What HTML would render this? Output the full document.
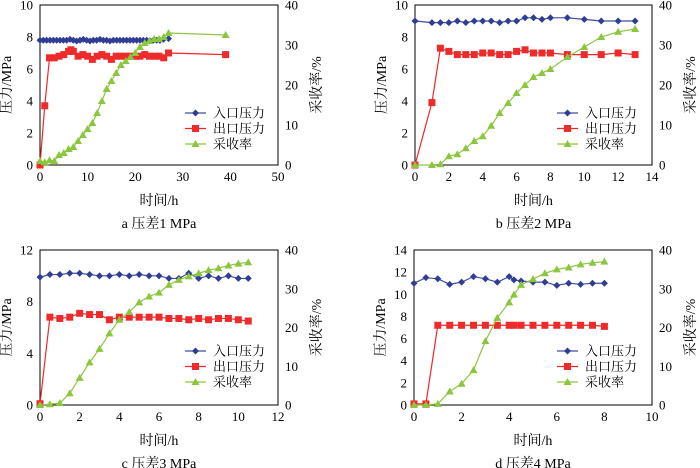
<!DOCTYPE html>
<html><head><meta charset="utf-8"><style>
html,body{margin:0;padding:0;background:#fff}
svg{display:block;font-family:"Liberation Serif","Noto Serif CJK SC","Noto Sans CJK SC",serif}
</style></head><body>
<svg id="c" width="700" height="468" viewBox="0 0 700 468" xmlns="http://www.w3.org/2000/svg"></svg>
<script>
// Panel a
const aTime=[0,0.7,1.4,2.1,2.8,3.5,4.2,4.9,5.6,6.3,7,7.7,8.4,9.1,9.8,10.5,11.2,11.9,12.6,13.3,14,14.7,15.4,16.1,16.8,17.5,18.2,18.9,19.6,20.3,21,21.7,22.4,23.1,23.8,24.5,25.2,25.9,27];
const aInlet=[7.8,7.8,7.8,7.8,7.8,7.8,7.8,7.8,7.8,7.85,7.8,7.75,7.8,7.85,7.8,7.75,7.8,7.8,7.85,7.8,7.8,7.75,7.8,7.8,7.8,7.8,7.8,7.8,7.8,7.8,7.8,7.8,7.8,7.75,7.8,7.8,7.8,7.85,7.9];
const aOutTime=[0,1,2,3,4,5,6,6.5,7,8,9,10,11,12,13,14,15,16,17,18,19,20,21,22,23,24,25,26,27,39];
const aOutlet=[0,3.7,6.7,6.7,6.8,6.9,7.1,7.2,7.1,6.8,6.9,6.8,6.6,6.8,6.9,6.8,6.6,6.8,6.8,6.8,6.8,6.8,6.8,6.9,6.8,6.8,6.8,6.7,7.0,6.9];
const aRecTime=[0,1,2,3,4,5,6,7,8,9,10,11,12,13,14,15,16,17,18,19,20,21,22,23,24,25,26,27,39];
const aRecovery=[1,0.7,1.2,1,2.5,3,4,4.5,6,7.5,9,10.5,13,16,19,21,23,25,26,27,28,29.5,30.5,31,31.5,31.5,32,33,32.5];
// Panel b
const bTime=[0,1,1.5,2,2.5,3,3.5,4,4.5,5,5.5,6,6.5,7,7.5,8,9,10,11,12,13];
const bInlet=[9,8.9,8.9,8.9,9,8.9,9,9,9,8.9,9,9,9.2,9.2,9.1,9.2,9.2,9.1,9,9,9];
const bOutlet=[0,3.9,7.3,7.1,6.9,6.9,6.9,7,7,6.9,6.9,7.1,7.2,7,7,7,6.9,6.9,6.9,7,6.9];
const bRecovery=[0,0,0.2,2.2,2.7,4.2,6,7.2,9.8,13,15.5,18,20,22,23,24,27,29.5,32,33.3,34];
// Panel c
const cTime=[0,0.5,1,1.5,2,2.5,3,3.5,4,4.5,5,5.5,6,6.5,7,7.5,8,8.5,9,9.5,10,10.5];
const cInlet=[9.9,10.1,10.1,10.2,10.2,10.1,10,10,10.1,10,10.1,10,10,9.8,9.8,10.2,9.8,10,9.8,10,9.8,9.8];
const cOutlet=[0.1,6.8,6.7,6.8,7.1,7,7,6.6,6.8,6.8,6.8,6.8,6.8,6.7,6.7,6.6,6.7,6.6,6.7,6.7,6.6,6.5];
const cRecovery=[0,0.2,0.5,3,7,11,14.5,18.5,22,24,26.5,28,29,31,32.3,33.2,34,34.8,35.3,36,36.5,36.8];
// Panel d
const dTime=[0,0.5,1,1.5,2,2.5,3,3.5,4,4.2,4.5,5,5.5,6,6.5,7,7.5,8];
const dInlet=[11,11.5,11.4,10.9,11.1,11.6,11.4,11.1,11.6,11.3,11.2,11.1,11.1,10.8,11,10.9,11,11];
const dOutlet=[0.1,0.1,7.2,7.2,7.2,7.2,7.2,7.2,7.2,7.2,7.2,7.2,7.2,7.2,7.2,7.2,7.2,7.1];
const dRecovery=[0,0,0.3,3.5,5.5,9,16.5,22.5,26.5,28.5,31,32.5,34,35,35.5,36.3,36.7,37];
// Tick labels
const aXTicks=[0,10,20,30,40,50], aYTicks=[0,2,4,6,8,10], aRTicks=[0,10,20,30,40];
const bXTicks=[0,2,4,6,8,10,12,14], bYTicks=[0,2,4,6,8,10], bRTicks=[0,10,20,30,40];
const cXTicks=[0,2,4,6,8,10,12], cYTicks=[0,4,8,12], cRTicks=[0,10,20,30,40];
const dXTicks=[0,2,4,6,8,10], dYTicks=[0,2,4,6,8,10,12,14], dRTicks=[0,10,20,30,40];
const legendNames=["入口压力","出口压力","采收率"];
const captions=["a  压差1 MPa","b  压差2 MPa","c  压差3 MPa","d  压差4 MPa"];

const NS="http://www.w3.org/2000/svg";
const svg=document.getElementById('c');
function mk(tag,attrs,parent){const e=document.createElementNS(NS,tag);for(const k in attrs)e.setAttribute(k,attrs[k]);(parent||svg).appendChild(e);return e;}
const BLUE="#3F4DA3",RED="#F02828",GREEN="#8DC63F";
function marker(g,kind,x,y){
  let m;
  if(kind==='d'){m=mk('polygon',{points:`${x},${y-3.5} ${x+3.5},${y} ${x},${y+3.5} ${x-3.5},${y}`,fill:"#2F3D95"},g);}
  else if(kind==='s'){m=mk('rect',{x:x-3.5,y:y-3.5,width:7,height:7,fill:"#EE2A2A"},g);}
  else {m=mk('polygon',{points:`${x},${y-4} ${x+4},${y+3} ${x-4},${y+3}`,fill:"#8CC63F"},g);}
  return m;
}
function panel(id,p){
  const g=mk('g',{});
  
  
  const X=v=>p.x0+(v-p.xmin)/(p.xmax-p.xmin)*(p.x1-p.x0);
  const Y=v=>p.y1-v/p.ymax*(p.y1-p.y0);
  const R=v=>p.y1-v/p.rmax*(p.y1-p.y0);
  const box=mk('rect',{x:p.x0,y:p.y0,width:p.x1-p.x0,height:p.y1-p.y0,fill:"none",stroke:"#000","stroke-width":1},g);
  
  p.xt.forEach(v=>{const t=mk('text',{x:X(v),y:p.y1+16,"text-anchor":"middle","font-size":13},g);t.textContent=v;
    });
  p.yt.forEach(v=>{const t=mk('text',{x:p.x0-7,y:Y(v)+4.5,"text-anchor":"end","font-size":13},g);t.textContent=v;
    });
  p.rt.forEach(v=>{const t=mk('text',{x:p.x1+7,y:R(v)+4.5,"text-anchor":"start","font-size":13},g);t.textContent=v;
    });
  const cy=(p.y0+p.y1)/2;
  const yt=mk('text',{x:0,y:0,"text-anchor":"middle","font-size":14,transform:`translate(${p.x0-29},${cy}) rotate(-90)`},g);yt.textContent="压力/MPa";
  
  const rt=mk('text',{x:0,y:0,"text-anchor":"middle","font-size":14,transform:`translate(${p.x1+43},${cy}) rotate(-90)`},g);rt.textContent="采收率/%";
  
  const xt=mk('text',{x:(p.x0+p.x1)/2,y:p.y1+40,"text-anchor":"middle","font-size":14},g);xt.textContent="时间/h";
  
  const cap=mk('text',{x:(p.x0+p.x1)/2,y:p.y1+63,"text-anchor":"middle","font-size":14},g);cap.textContent=p.cap;
  
  const series=[[p.it,p.inl,Y,BLUE,'d','inlet-pressure'],[p.ot,p.out,Y,RED,'s','outlet-pressure'],[p.rtm,p.rec,R,GREEN,'t','recovery-rate']];
  series.forEach(s=>{
    const [ts,vs,f,col,k,name]=s;
    const sg=mk('g',{},g);
    
    const pl=mk('polyline',{points:ts.map((t,i)=>X(t)+","+f(vs[i])).join(" "),fill:"none",stroke:col,"stroke-width":1.2},sg);
    
    ts.forEach((t,i)=>{const m=marker(sg,k,X(t),f(vs[i]));
      });
  });
  const cols=[BLUE,RED,GREEN],ks=['d','s','t'];
  legendNames.forEach((n,i)=>{
    const ly=p.ly+i*15.5;
    const lg=mk('g',{},g);
    
    mk('line',{x1:p.lx,x2:p.lx+21,y1:ly,y2:ly,stroke:cols[i],"stroke-width":1.2},lg);
    marker(lg,ks[i],p.lx+10.5,ly);
    const t=mk('text',{x:p.lx+28,y:ly+4.5,"font-size":13},lg);t.textContent=n;
  });
}
panel('a',{x0:40,x1:278,y0:5,y1:165,xmin:0,xmax:50,ymax:10,rmax:40,xt:aXTicks,yt:aYTicks,rt:aRTicks,
  it:aTime,inl:aInlet,ot:aOutTime,out:aOutlet,rtm:aRecTime,rec:aRecovery,lx:185,ly:113,cap:captions[0]});
panel('b',{x0:415,x1:652,y0:5,y1:165,xmin:0,xmax:14,ymax:10,rmax:40,xt:bXTicks,yt:bYTicks,rt:bRTicks,
  it:bTime,inl:bInlet,ot:bTime,out:bOutlet,rtm:bTime,rec:bRecovery,lx:557,ly:113,cap:captions[1]});
panel('c',{x0:40,x1:278,y0:250,y1:405,xmin:0,xmax:12,ymax:12,rmax:40,xt:cXTicks,yt:cYTicks,rt:cRTicks,
  it:cTime,inl:cInlet,ot:cTime,out:cOutlet,rtm:cTime,rec:cRecovery,lx:185,ly:351,cap:captions[2]});
panel('d',{x0:414,x1:652,y0:250,y1:405,xmin:0,xmax:10,ymax:14,rmax:40,xt:dXTicks,yt:dYTicks,rt:dRTicks,
  it:dTime,inl:dInlet,ot:dTime,out:dOutlet,rtm:dTime,rec:dRecovery,lx:557,ly:351,cap:captions[3]});
</script>
</body></html>
